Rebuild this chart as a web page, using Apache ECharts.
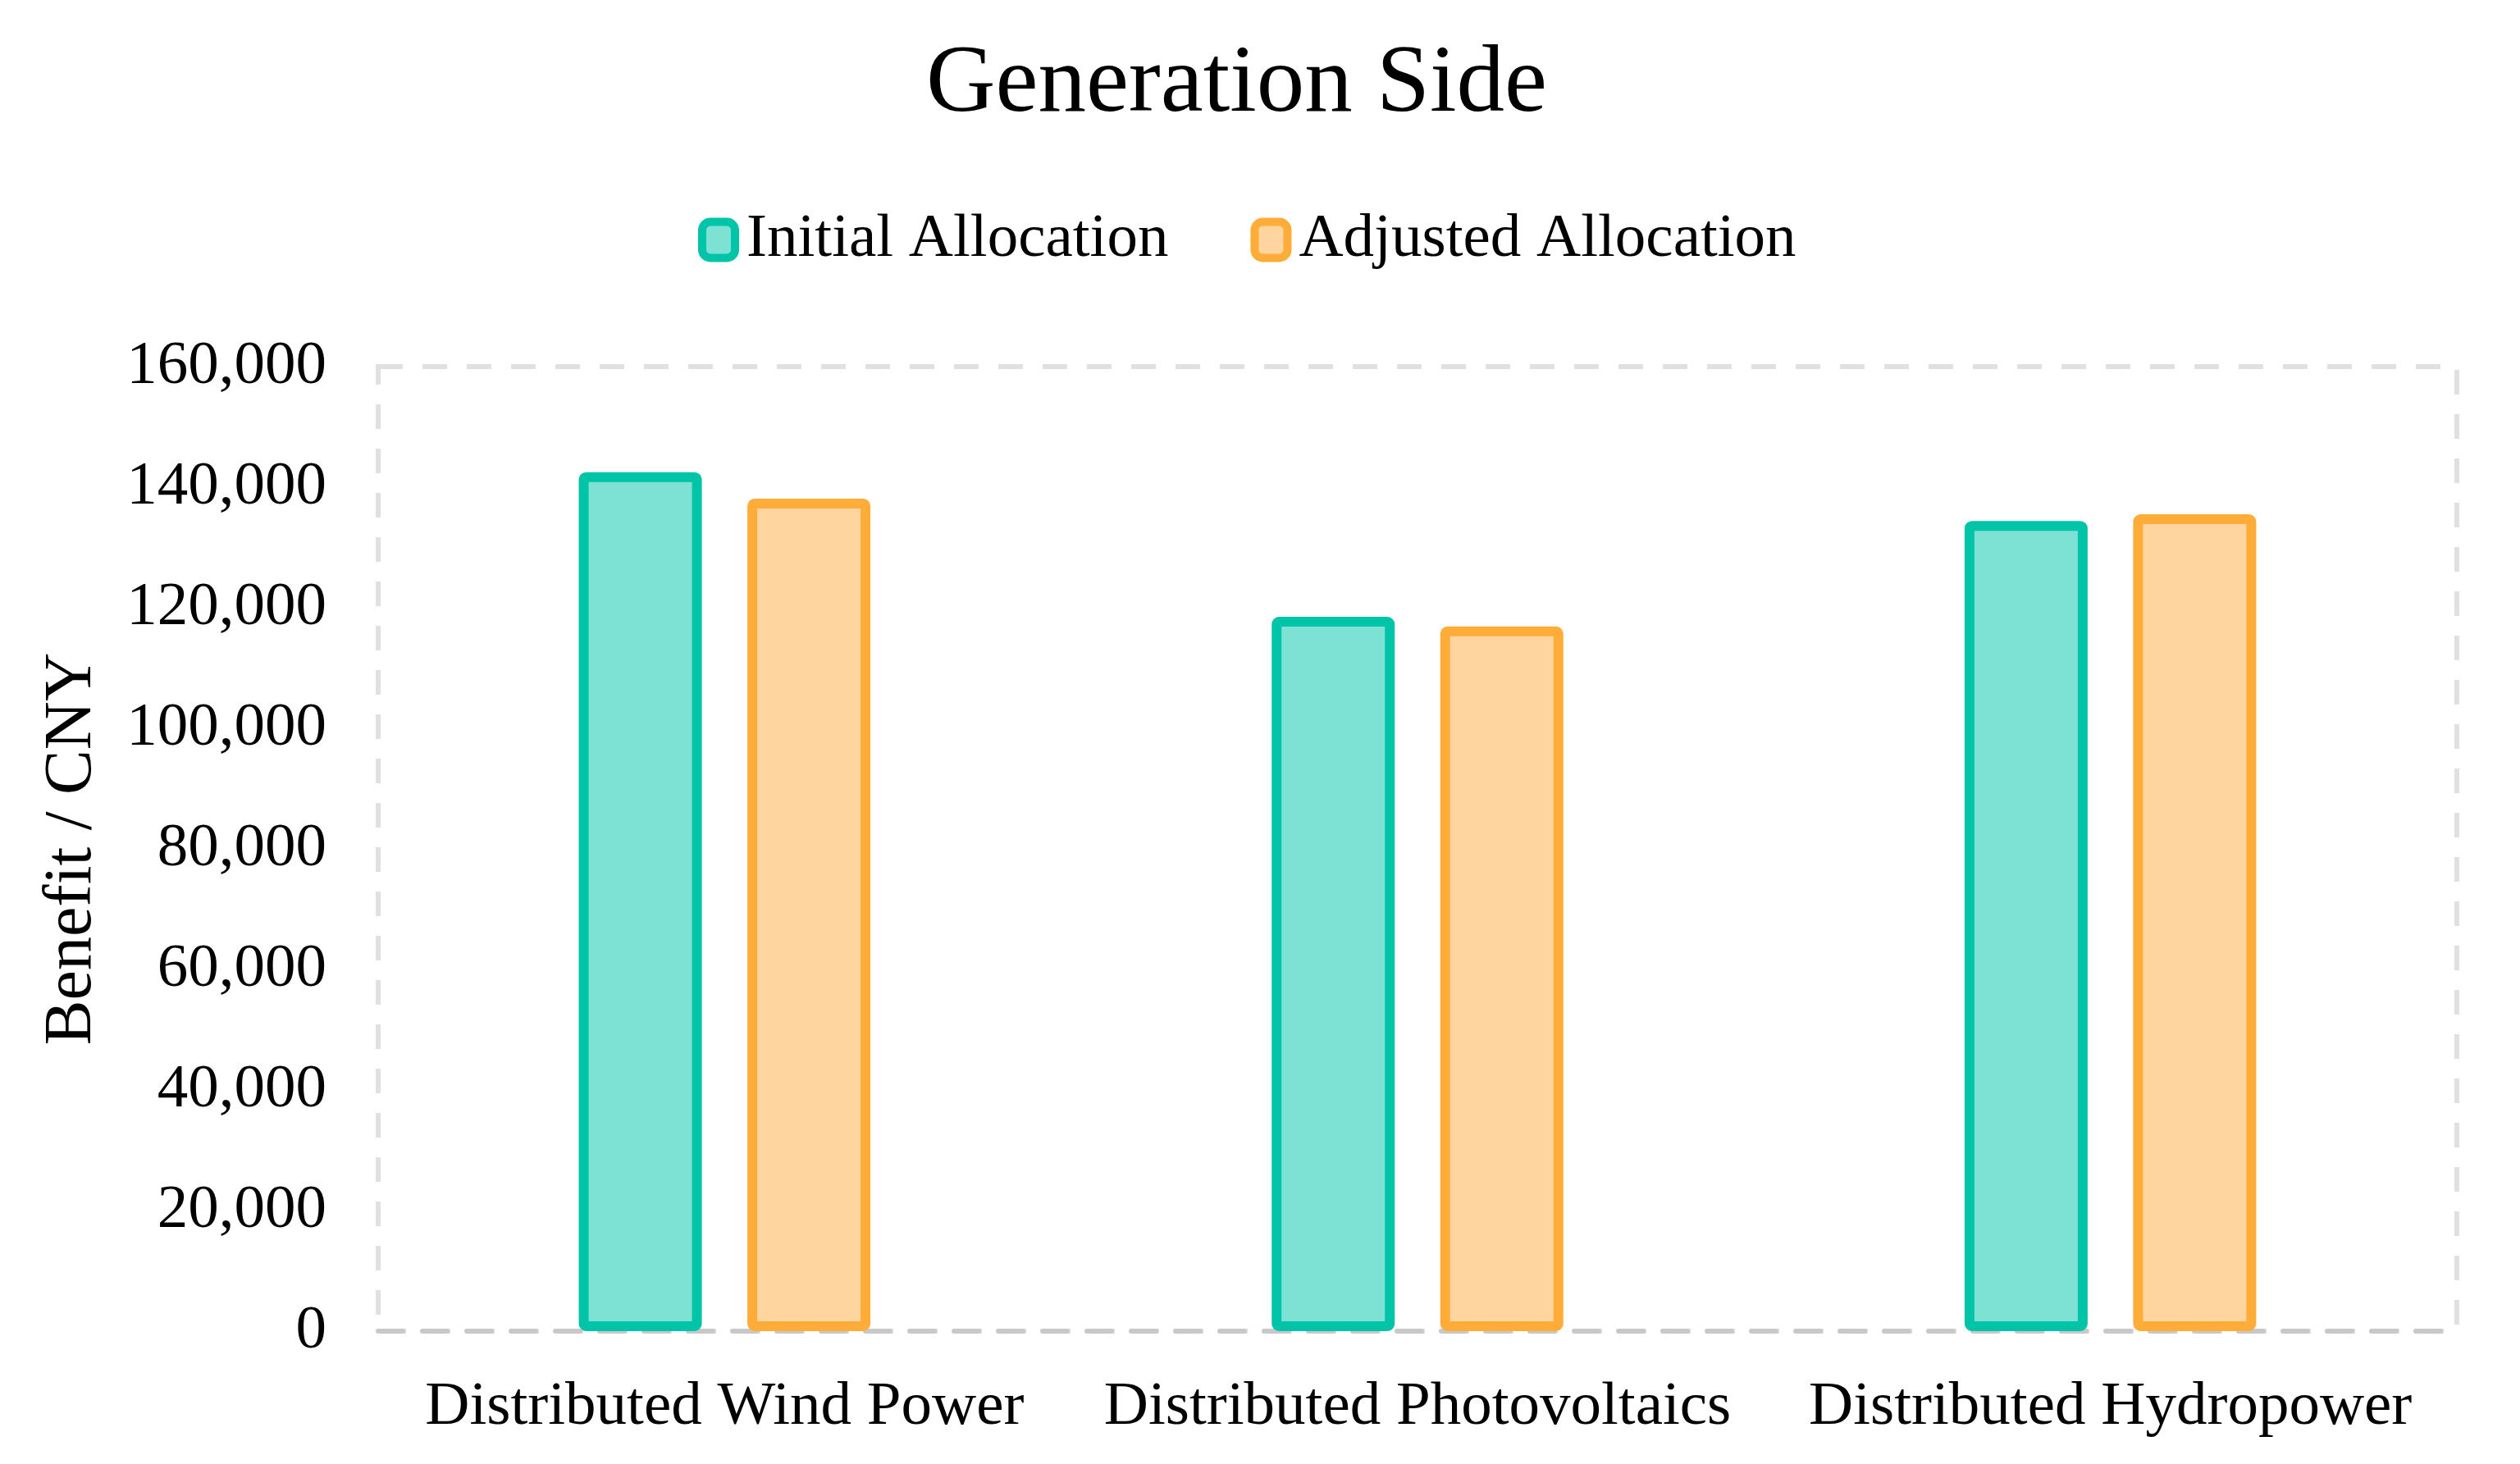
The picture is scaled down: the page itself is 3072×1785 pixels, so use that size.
<!DOCTYPE html>
<html>
<head>
<meta charset="utf-8">
<script src="https://cdn.jsdelivr.net/npm/echarts@6/dist/echarts.min.js"></script>
<style>
html,body{margin:0;padding:0;background:#fff;}
#chart{width:3072px;height:1785px;}
</style>
</head>
<body>
<div id="chart"></div>
<script>
const titleText = 'Generation Side';
const yAxisName = 'Benefit / CNY';
const categories = ['Distributed Wind Power', 'Distributed Photovoltaics', 'Distributed Hydropower'];
const seriesNames = ['Initial Allocation', 'Adjusted Allocation'];
const initialValues = [142500, 118500, 134400];
const adjustedValues = [138100, 116900, 135500];
const yMin = 0;
const yMax = 160000;
const yStep = 20000;

const FONT = '"Liberation Serif", "Times New Roman", serif';
const tealBorder = '#00C4A7';
const tealFill = '#7DE2D4';
const orangeBorder = '#FFAC38';
const orangeFill = '#FED59E';

const chart = echarts.init(document.getElementById('chart'), null, {renderer: 'canvas'});
chart.setOption({
  backgroundColor: '#ffffff',
  animation: false,
  title: {
    text: titleText,
    left: 1124,
    top: 41,
    textStyle: {fontFamily: FONT, fontSize: 117, fontWeight: 'normal', color: '#000'}
  },
  legend: {
    top: 250,
    left: 846,
    itemWidth: 40,
    itemHeight: 44,
    itemGap: 100,
    itemStyle: {borderWidth: 10},
    textStyle: {fontFamily: FONT, fontSize: 75, color: '#000', padding: [0, 0, 0, 9]},
    data: seriesNames
  },
  grid: {
    left: 461,
    right: 77,
    top: 447,
    bottom: 162,
    show: true,
    borderColor: '#e0e0e0',
    borderWidth: 6,
    borderType: [30, 24],
    containLabel: false
  },
  xAxis: {
    type: 'category',
    data: categories,
    axisLine: {show: true, lineStyle: {color: '#c8c8c8', width: 6, type: [30, 24]}},
    axisTick: {show: false},
    axisLabel: {fontFamily: FONT, fontSize: 75, color: '#000', margin: 56, interval: 0},
    splitLine: {show: false}
  },
  yAxis: {
    type: 'value',
    min: yMin,
    max: yMax,
    interval: yStep,
    name: yAxisName,
    nameLocation: 'middle',
    nameGap: 332,
    nameTextStyle: {fontFamily: FONT, fontSize: 82, color: '#000'},
    axisLine: {show: false},
    axisTick: {show: false},
    splitLine: {show: false},
    axisLabel: {
      fontFamily: FONT, fontSize: 75, color: '#000', margin: 63,
      padding: [8, 0, 0, 0],
      formatter: v => v.toLocaleString('en-US')
    }
  },
  series: [
    {
      name: seriesNames[0],
      type: 'bar',
      data: initialValues,
      barWidth: 150,
      barGap: '37%',
      itemStyle: {color: tealFill, borderColor: tealBorder, borderWidth: 12, borderRadius: 3}
    },
    {
      name: seriesNames[1],
      type: 'bar',
      data: adjustedValues,
      barWidth: 150,
      barGap: '37%',
      itemStyle: {color: orangeFill, borderColor: orangeBorder, borderWidth: 12, borderRadius: 3}
    }
  ]
});
</script>
</body>
</html>
